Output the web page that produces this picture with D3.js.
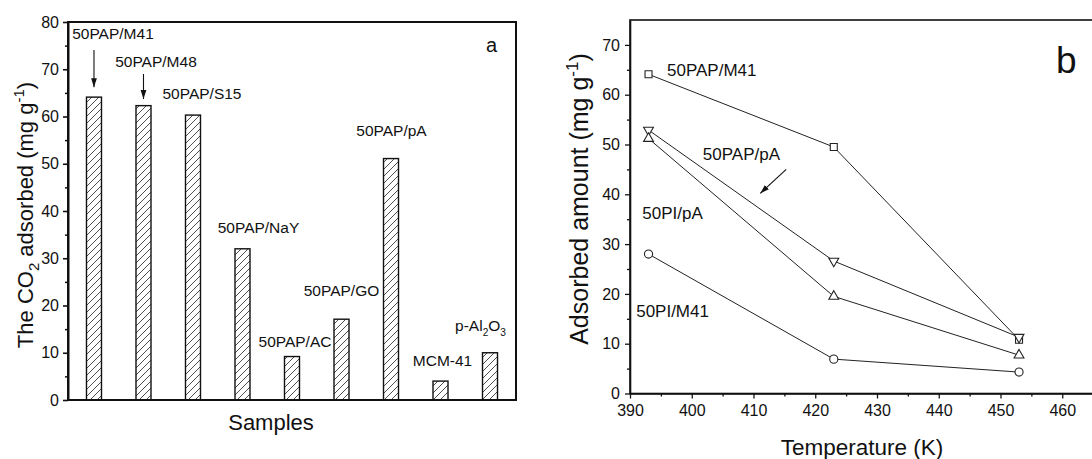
<!DOCTYPE html>
<html>
<head>
<meta charset="utf-8">
<script src="https://cdn.jsdelivr.net/npm/d3@7"></script>
<style>
  html, body { margin: 0; padding: 0; background: #fff; }
  svg { display: block; font-family: "Liberation Sans", Arial, sans-serif; }
  text { fill: #111; }
</style>
</head>
<body>
<svg id="chart" width="1092" height="459"></svg>
<script>
// ---- panel a data ----
const sampleNames = ['50PAP/M41', '50PAP/M48', '50PAP/S15', '50PAP/NaY', '50PAP/AC', '50PAP/GO', '50PAP/pA', 'MCM-41', 'p-Al_2O_3'];
const co2Adsorbed = [64.1, 62.3, 60.3, 32.0, 9.2, 17.1, 51.1, 4.0, 10.0];
const barTicks = [0, 10, 20, 30, 40, 50, 60, 70, 80];

// ---- panel b data ----
const temperatures = [393, 423, 453];
const papM41 = [64.1, 49.5, 10.8];
const papPA = [52.9, 26.6, 11.3];
const piPA = [51.2, 19.5, 7.7];
const piM41 = [28.0, 6.9, 4.3];
const seriesNames = ['50PAP/M41', '50PAP/pA', '50PI/pA', '50PI/M41'];
const tempTicks = [390, 400, 410, 420, 430, 440, 450, 460];
const amountTicks = [0, 10, 20, 30, 40, 50, 60, 70];

// label placement (offset from bar centre in px, baseline in data units)
const barLabelDx = [19, 12.5, 9, 16, 3, 0, 0.5, 2, -9.5];
const barLabelY = [76.4, 70.5, 63.7, 35.4, 11.3, 22.0, 55.9, 7.2, 14.5];

const svg = d3.select('#chart');
const defs = svg.append('defs');

defs.append('pattern')
  .attr('id', 'hatch')
  .attr('patternUnits', 'userSpaceOnUse')
  .attr('width', 7).attr('height', 7)
  .append('path')
  .attr('d', 'M-1,1 L1,-1 M0,7 L7,0 M6,8 L8,6')
  .attr('stroke', '#222').attr('stroke-width', 0.8);

defs.append('marker')
  .attr('id', 'arrow')
  .attr('viewBox', '0 0 10 10')
  .attr('refX', 10).attr('refY', 5)
  .attr('markerWidth', 9).attr('markerHeight', 9)
  .attr('markerUnits', 'userSpaceOnUse')
  .attr('orient', 'auto')
  .append('path')
  .attr('d', 'M0,1.8 L10,5 L0,8.2 Z')
  .attr('fill', '#111');

// writes "p-Al_2O_3" style strings with subscripts
function richText(sel, str, size) {
  const parts = str.split(/_(\d)/);
  let shifted = false;
  parts.forEach((p, i) => {
    if (p === '') return;
    const sub = i % 2 === 1;
    const t = sel.append('tspan').text(p);
    if (sub && !shifted) { t.attr('dy', size * 0.3).attr('font-size', size * 0.7); shifted = true; }
    else if (sub) { t.attr('font-size', size * 0.7); }
    else if (shifted) { t.attr('dy', -size * 0.3); shifted = false; }
  });
}

function styleAxis(g, w) {
  g.select('.domain').attr('stroke', '#111').attr('stroke-width', w);
  g.selectAll('.tick line').attr('stroke', '#111').attr('stroke-width', w * 0.8);
  g.selectAll('.tick text').attr('font-size', 16).attr('fill', '#111')
    .attr('font-family', '"Liberation Sans", Arial, sans-serif');
}

/* ================= panel a ================= */
const A = { left: 68, right: 516, top: 22, bottom: 400 };
const xA = d3.scalePoint().domain(sampleNames).range([A.left, A.right]).padding(0.525);
const yA = d3.scaleLinear().domain([0, 80]).range([A.bottom, A.top]);
const gA = svg.append('g');

gA.selectAll('rect.bar')
  .data(co2Adsorbed)
  .join('rect')
  .attr('class', 'bar')
  .attr('x', (d, i) => xA(sampleNames[i]) - 7.5)
  .attr('y', d => yA(d))
  .attr('width', 15)
  .attr('height', d => yA(0) - yA(d))
  .attr('fill', 'url(#hatch)')
  .attr('stroke', '#111')
  .attr('stroke-width', 1.4);

gA.append('rect')
  .attr('x', A.left).attr('y', A.top)
  .attr('width', A.right - A.left).attr('height', A.bottom - A.top)
  .attr('fill', 'none').attr('stroke', '#111').attr('stroke-width', 2);

gA.append('g')
  .attr('transform', `translate(${A.left},0)`)
  .call(d3.axisLeft(yA).tickValues(barTicks).tickSize(5).tickSizeOuter(0).tickPadding(4).tickFormat(d3.format('d')))
  .call(g => styleAxis(g, 2));

gA.append('g')
  .attr('transform', `translate(${A.left},0)`)
  .call(d3.axisLeft(yA).tickValues(d3.range(5, 80, 10)).tickSize(3).tickFormat(''))
  .call(g => { g.select('.domain').remove(); g.selectAll('line').attr('stroke', '#111').attr('stroke-width', 1.5); });

gA.selectAll('text.blabel')
  .data(sampleNames)
  .join('text')
  .attr('class', 'blabel')
  .attr('x', (d, i) => xA(d) + barLabelDx[i])
  .attr('y', (d, i) => yA(barLabelY[i]))
  .attr('text-anchor', 'middle')
  .attr('font-size', 15.5)
  .each(function (d) { richText(d3.select(this), d, d.startsWith('p-') ? 14.5 : 15.5); });

// arrows pointing at first two bars
const arrowsA = [[0, 74.1, 66.2], [1, 69.0, 63.7]];
gA.selectAll('line.arr')
  .data(arrowsA)
  .join('line')
  .attr('x1', d => xA(sampleNames[d[0]])).attr('x2', d => xA(sampleNames[d[0]]))
  .attr('y1', d => yA(d[1])).attr('y2', d => yA(d[2]))
  .attr('stroke', '#111').attr('stroke-width', 1.1)
  .attr('marker-end', 'url(#arrow)');

gA.append('text')
  .attr('x', A.right - 30).attr('y', yA(73.6))
  .attr('font-size', 20).text('a');

gA.append('text')
  .attr('x', 271).attr('y', 430)
  .attr('text-anchor', 'middle').attr('font-size', 22).text('Samples');

const ylabA = gA.append('text')
  .attr('transform', 'translate(32.5,215) rotate(-90)')
  .attr('text-anchor', 'middle').attr('font-size', 22);
ylabA.append('tspan').text('The CO');
ylabA.append('tspan').text('2').attr('font-size', 15).attr('dy', 6);
ylabA.append('tspan').text(' adsorbed (mg g').attr('dy', -6);
ylabA.append('tspan').text('-1').attr('font-size', 15).attr('dy', -9);
ylabA.append('tspan').text(')').attr('dy', 9);

/* ================= panel b ================= */
const B = { left: 630, right: 1124, top: 20, bottom: 393.5 };
const xB = d3.scaleLinear().domain([390, 470]).range([B.left, B.right]);
const yB = d3.scaleLinear().domain([0, 75]).range([B.bottom, B.top]);
const gB = svg.append('g');

gB.append('rect')
  .attr('x', B.left).attr('y', B.top)
  .attr('width', B.right - B.left).attr('height', B.bottom - B.top)
  .attr('fill', 'none').attr('stroke', '#111').attr('stroke-width', 1.6);

gB.append('g')
  .attr('transform', `translate(0,${B.bottom})`)
  .call(d3.axisBottom(xB).tickValues(tempTicks).tickSize(5).tickSizeOuter(0).tickPadding(6).tickFormat(d3.format('d')))
  .call(g => styleAxis(g, 1.6));
gB.append('g')
  .attr('transform', `translate(0,${B.bottom})`)
  .call(d3.axisBottom(xB).tickValues(d3.range(395, 470, 10)).tickSize(3).tickFormat(''))
  .call(g => { g.select('.domain').remove(); g.selectAll('line').attr('stroke', '#111').attr('stroke-width', 1.3); });

gB.append('g')
  .attr('transform', `translate(${B.left},0)`)
  .call(d3.axisLeft(yB).tickValues(amountTicks).tickSize(5).tickSizeOuter(0).tickPadding(5).tickFormat(d3.format('d')))
  .call(g => styleAxis(g, 1.6));
gB.append('g')
  .attr('transform', `translate(${B.left},0)`)
  .call(d3.axisLeft(yB).tickValues(d3.range(5, 75, 10)).tickSize(3).tickFormat(''))
  .call(g => { g.select('.domain').remove(); g.selectAll('line').attr('stroke', '#111').attr('stroke-width', 1.3); });

const seriesB = [
  { name: seriesNames[0], values: papM41, symbol: d3.symbolSquare, size: 49, rot: 0 },
  { name: seriesNames[1], values: papPA, symbol: d3.symbolTriangle, size: 42, rot: 180 },
  { name: seriesNames[2], values: piPA, symbol: d3.symbolTriangle, size: 42, rot: 0 },
  { name: seriesNames[3], values: piM41, symbol: d3.symbolCircle, size: 52, rot: 0 }
];

const line = d3.line()
  .x((d, i) => xB(temperatures[i]))
  .y(d => yB(d));

gB.selectAll('path.series')
  .data(seriesB)
  .join('path')
  .attr('class', 'series')
  .attr('d', s => line(s.values))
  .attr('fill', 'none')
  .attr('stroke', '#222')
  .attr('stroke-width', 1);

seriesB.forEach(s => {
  gB.selectAll(null)
    .data(s.values)
    .join('path')
    .attr('d', d3.symbol().type(s.symbol).size(s.size))
    .attr('transform', (d, i) => `translate(${xB(temperatures[i])},${yB(d)}) rotate(${s.rot})`)
    .attr('fill', '#fff')
    .attr('stroke', '#222')
    .attr('stroke-width', 1.1);
});

const labelsB = [
  { t: seriesNames[0], x: 396.0, y: 63.7 },
  { t: seriesNames[1], x: 401.8, y: 46.9 },
  { t: seriesNames[2], x: 392.0, y: 35.0 },
  { t: seriesNames[3], x: 391.0, y: 15.4 }
];
gB.selectAll('text.slabel')
  .data(labelsB)
  .join('text')
  .attr('class', 'slabel')
  .attr('x', d => xB(d.x)).attr('y', d => yB(d.y))
  .attr('font-size', 17)
  .text(d => d.t);

gB.append('line')
  .attr('x1', xB(415.3)).attr('y1', yB(45.0))
  .attr('x2', xB(411.1)).attr('y2', yB(40.2))
  .attr('stroke', '#111').attr('stroke-width', 1.1)
  .attr('marker-end', 'url(#arrow)');

gB.append('text')
  .attr('x', xB(459.0)).attr('y', yB(64.4))
  .attr('font-size', 37).text('b');

gB.append('text')
  .attr('x', 862).attr('y', 455)
  .attr('text-anchor', 'middle').attr('font-size', 22.5).text('Temperature (K)');

const ylabB = gB.append('text')
  .attr('transform', 'translate(588,199) rotate(-90)')
  .attr('text-anchor', 'middle').attr('font-size', 25);
ylabB.append('tspan').text('Adsorbed amount (mg g');
ylabB.append('tspan').text('-1').attr('font-size', 17).attr('dy', -10);
ylabB.append('tspan').text(')').attr('dy', 10);
</script>
</body>
</html>
